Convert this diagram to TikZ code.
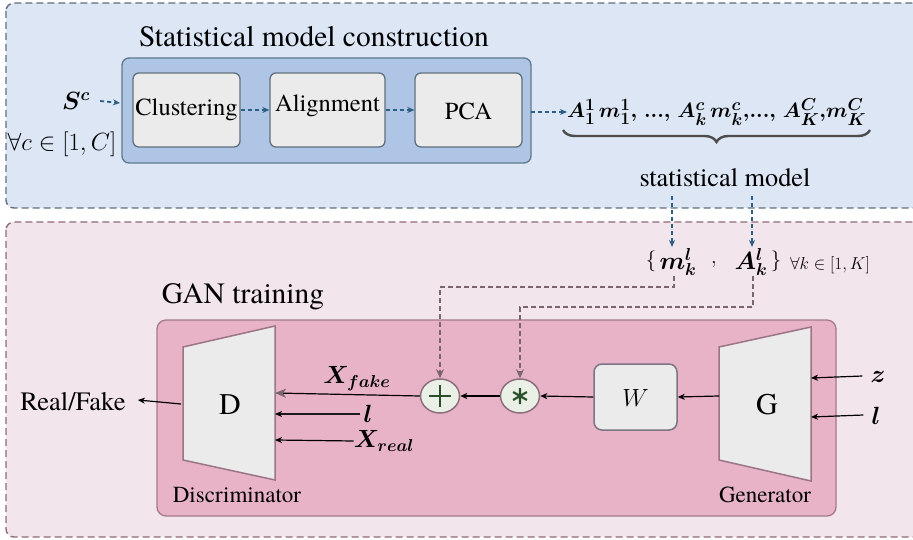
\documentclass[tikz,border=0pt]{standalone}
\usepackage{amsmath,bm}
\usepackage{fontspec}
\setmainfont{texgyretermes}[Extension=.otf,UprightFont=*-regular,BoldFont=*-bold,ItalicFont=*-italic,BoldItalicFont=*-bolditalic]
\usetikzlibrary{arrows.meta,decorations.pathreplacing,calc,shapes.geometric}
\definecolor{topfill}{HTML}{DCE6F5}
\definecolor{topborder}{HTML}{5E6E7E}
\definecolor{consfill}{HTML}{AFC5E6}
\definecolor{consborder}{HTML}{5E7A8C}
\definecolor{boxfill}{HTML}{EBEBEB}
\definecolor{boxborder}{HTML}{60707C}
\definecolor{botfill}{HTML}{F3E5EC}
\definecolor{botborder}{HTML}{8E6A78}
\definecolor{ganfill}{HTML}{E8B3C7}
\definecolor{ganborder}{HTML}{A37A8B}
\definecolor{trapborder}{HTML}{9B7585}
\definecolor{circfill}{HTML}{EAF0E6}
\definecolor{circborder}{HTML}{8E6F7C}
\definecolor{symcol}{HTML}{2A4F2A}
\definecolor{bluedash}{HTML}{2C5F84}
\definecolor{pdash}{HTML}{7A6470}
\newcommand\fsz[1]{\fontsize{#1}{#1}\selectfont}
\begin{document}
\begin{tikzpicture}[x=1pt,y=-1pt,
  panel/.style={dashed,dash pattern=on 7pt off 4pt,line width=1.4pt,rounded corners=8pt},
  stepbox/.style={draw=boxborder,fill=boxfill,line width=1.3pt,rounded corners=6pt},
  blarrow/.style={bluedash,line width=1.8pt,dash pattern=on 4pt off 3pt,-{Stealth[length=7pt,width=6pt]}},
  pdarrow/.style={pdash,line width=1.5pt,dash pattern=on 5pt off 3pt,-{Stealth[length=9pt,width=8pt]}},
  karrow/.style={black,line width=1.2pt,-{Stealth[length=7pt,width=6pt,inset=2pt]}},
  circ/.style={draw=circborder,fill=circfill,line width=1.5pt,ellipse,minimum width=39pt,minimum height=34pt,inner sep=0pt},
  trap/.style={draw=trapborder,fill=boxfill,line width=1.5pt},
  sym/.style={symcol,line width=2.6pt},
  lbl/.style={inner sep=0pt}]
\useasboundingbox (0,0) rectangle (913,540);

% panels
\draw[panel,draw=topborder,fill=topfill] (6,3) rectangle (940,208);
\draw[panel,draw=botborder,fill=botfill] (6,222) rectangle (940,537);

% top section
\node[lbl] (title) at (314,37) {\fsz{29.5}Statistical model construction};
\draw[draw=consborder,fill=consfill,line width=1.3pt,rounded corners=7pt] (122,58) rectangle (531,163);
\node[stepbox,minimum width=107pt,minimum height=74pt] (clu) at (186.5,110) {};
\node[lbl] at (186.5,110) {\fsz{24.5}Clustering};
\node[stepbox,minimum width=115pt,minimum height=74pt] (ali) at (327.5,110) {};
\node[lbl] at (327.5,106) {\fsz{24.5}Alignment};
\node[stepbox,minimum width=107pt,minimum height=74pt] (pca) at (468.5,110) {};
\node[lbl] at (468.5,111) {\fsz{24.5}PCA};
\coordinate (consE) at (531,112);
\coordinate (consW) at (120,103);

\node[lbl] (sc) at (76,101) {\fsz{26}$\boldsymbol{S^c}$};
\node[lbl] (fa) at (62,144) {\fsz{24}$\forall c \in [1,C]$};
\draw[blarrow] (sc.east) ++(10pt,0) coordinate (scs) -- (consW);
\draw[blarrow] (clu.east) -- (ali.west);
\draw[blarrow] (ali.east) -- (pca.west);

\node[lbl,anchor=west] (form) at (567,112) {\fsz{22.8}$\boldsymbol{A_1^1\,m_1^1,\,...,\,A_k^c\,m_k^c{,}...,\,A_K^C{,}m_K^C}$};
\draw[blarrow] (consE) -- (form.west);
\draw[decorate,decoration={brace,mirror,amplitude=12pt},line width=2.4pt,draw=black!70]
  (563,130) coordinate (b1) -- (870,130) coordinate (b2);
\node[lbl] (sm) at (725,178) {\fsz{26.3}statistical model};

% set
\node[lbl] (lb) at (651,261) {\fsz{22}$\{$};
\node[lbl] (m) at (678,262) {\fsz{23}$\boldsymbol{m_k^l}$};
\node[lbl] (cm) at (714,265) {\fsz{22}$,$};
\node[lbl] (A) at (751,262) {\fsz{23}$\boldsymbol{A_k^l}$};
\node[lbl] (rb) at (776,261) {\fsz{22}$\}$};
\node[lbl] (fk) at (830,265) {\fsz{17}$\forall k \in [1,K]$};
\coordinate (s1) at (672,196);
\coordinate (s2) at (752,196);
\coordinate (e1) at (672,247);
\coordinate (e2) at (752,247);
\draw[blarrow] (s1) -- (e1);
\draw[blarrow] (s2) -- (e2);

% bottom section
\node[lbl] (gan) at (243,297) {\fsz{29.5}GAN training};
\draw[draw=ganborder,fill=ganfill,line width=1.3pt,rounded corners=9pt] (157,320) rectangle (836,516);

% Discriminator
\draw[trap] (183,347) -- (275,326) -- (275,480) -- (183,460) -- cycle;
\node[lbl] (D) at (230,405) {\fsz{30}D};
\node[lbl] (disc) at (237,495) {\fsz{23}Discriminator};
% Generator
\draw[trap] (719,347) -- (811,327) -- (811,481) -- (719,460) -- cycle;
\node[lbl] (G) at (767,405) {\fsz{30}G};
\node[lbl] (gen) at (765,495) {\fsz{23}Generator};

\node[draw=boxborder!60!ganborder,fill=boxfill,line width=1.5pt,rounded corners=8pt,minimum width=83pt,minimum height=66pt] (W) at (635.5,397) {};
\node[lbl] at (635.5,398) {\fsz{25}$W$};

\node[circ] (star) at (520,396) {};
\draw[sym,line width=2.2pt] (520,388) -- (520,404)
  (513.1,392) -- (526.9,400) (513.1,400) -- (526.9,392);
\node[circ] (plus) at (440,396) {};
\draw[sym] (440,385) -- (440,407) (429,396) -- (451,396);

\coordinate (Gl) at (719,396);
\coordinate (Dr) at (275,393);
\coordinate (Dr2) at (275,414);
\coordinate (Dr3) at (275,440);
\coordinate (Dl) at (181,404);
\coordinate (Gr1) at (811,378);
\coordinate (Gr2) at (811,417);

\draw[karrow] (Gl) -- (W.east);
\draw[karrow] (W.west) -- (star.east);
\draw[karrow] (star.west) -- (plus.east);
\draw[black,line width=1.2pt,-{Stealth[length=11pt,width=9pt,inset=3pt,color=pdash]}] (plus.west) -- (Dr);
\node[lbl] (xf) at (357,379) {\fsz{25}$\boldsymbol{X_{fake}}$};
\node[lbl] (l1) at (368,414) {\fsz{24}$\boldsymbol{l}$};
\draw[line width=1.2pt,draw=black!75!pdash,-{Stealth[length=7pt,width=6pt,inset=2pt,color=black]}] (l1.west) ++(-3pt,0) -- (Dr2);
\node[lbl] (xr) at (384,441) {\fsz{25}$\boldsymbol{X_{real}}$};
\draw[karrow] (xr.west) -- (Dr3);

\node[lbl] (rf) at (73,402) {\fsz{26.5}Real/Fake};
\draw[karrow] (Dl) -- ($(rf.east)+(12pt,2pt)$);

\node[lbl] (z) at (878,377) {\fsz{24}$\boldsymbol{z}$};
\node[lbl] (l2) at (876,416) {\fsz{24}$\boldsymbol{l}$};
\draw[karrow] ($(z.west)+(-8pt,1pt)$) -- (Gr1);
\draw[karrow] ($(l2.west)+(-8pt,1pt)$) -- (Gr2);

% dashed connectors
\coordinate (mc) at (674,287);
\coordinate (ac) at (753,307);
\draw[pdarrow] (674,276) -- (mc) -| (plus.north);
\draw[pdarrow] (753,276) -- (ac) -| (star.north);
\end{tikzpicture}
\end{document}
